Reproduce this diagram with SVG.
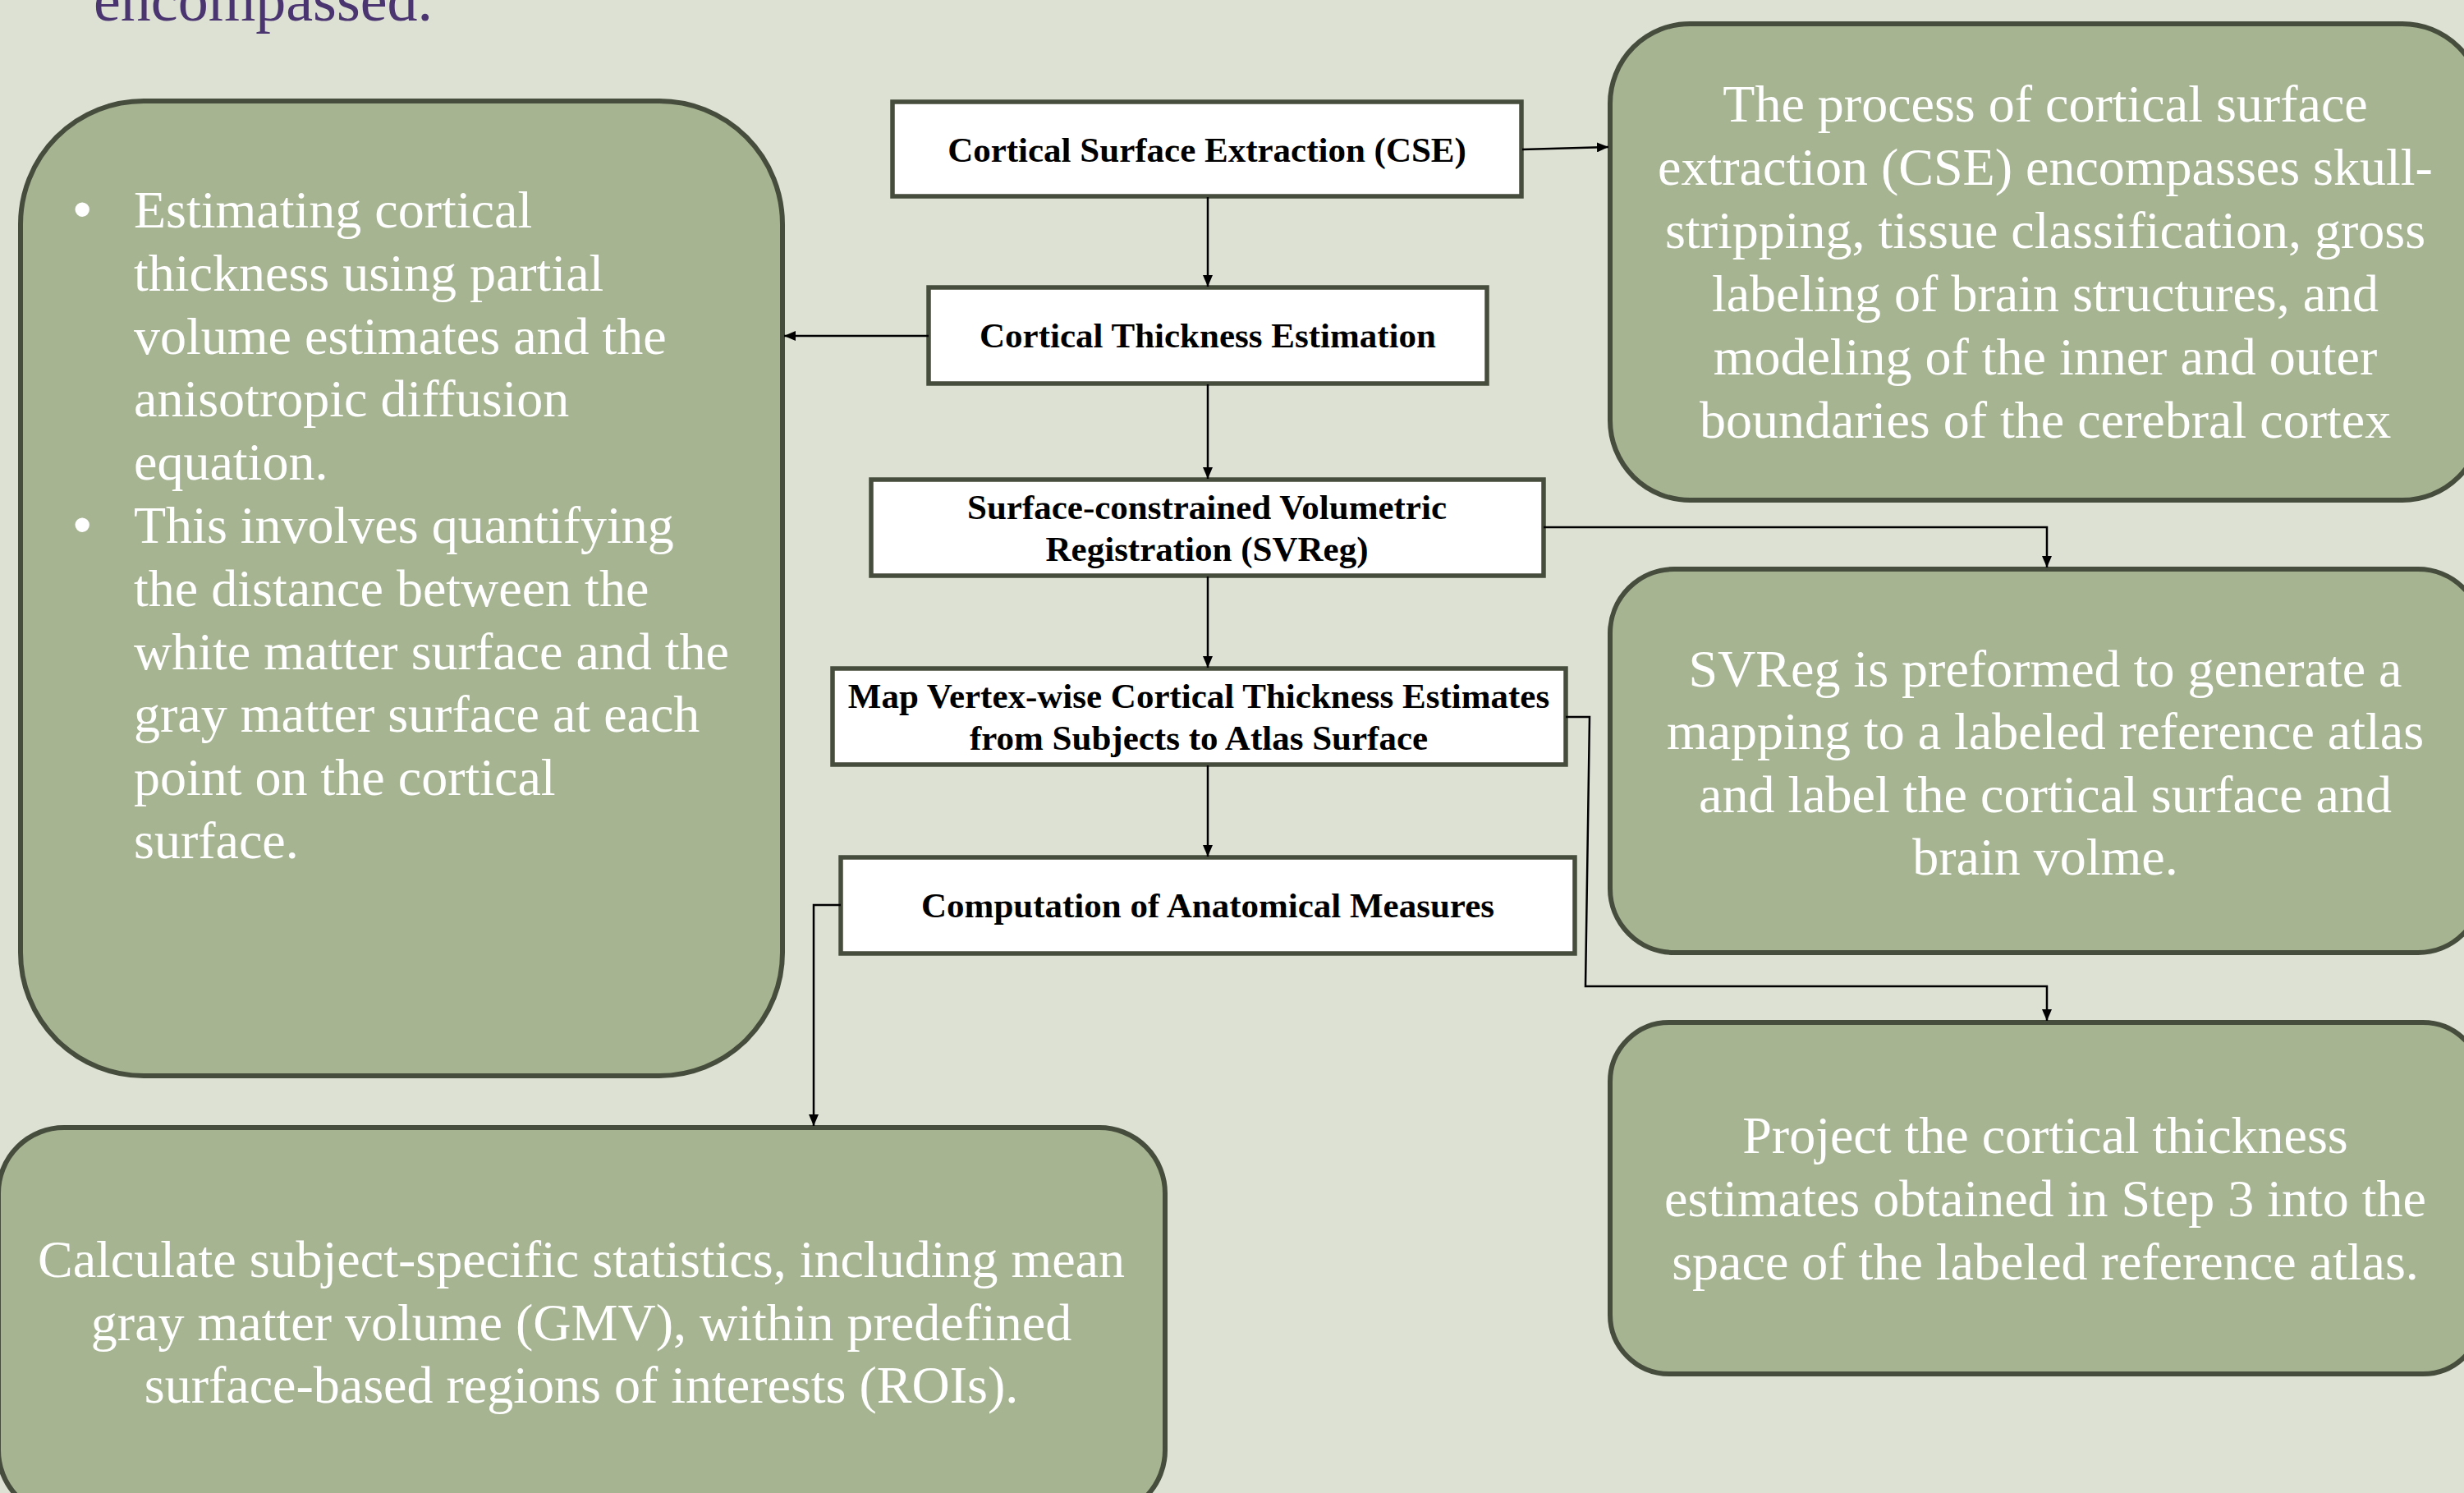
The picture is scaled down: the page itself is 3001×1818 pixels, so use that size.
<svg xmlns="http://www.w3.org/2000/svg" width="3001" height="1818" viewBox="0 0 3001 1818">
  <style>
    .bg { fill: #dce1d4; }
    .step { fill: #ffffff; stroke: #474d3d; stroke-width: 5.5; }
    .note { fill: #a6b492; stroke: #474d3d; stroke-width: 6; }
    .stepText { font-family: "Liberation Serif", "Times New Roman", serif; font-weight: bold; font-size: 43px; fill: #000000; text-anchor: middle; }
    .noteText { font-family: "Liberation Serif", "Times New Roman", serif; font-size: 64px; fill: #ffffff; text-anchor: middle; }
    .listText { font-family: "Liberation Serif", "Times New Roman", serif; font-size: 64px; fill: #ffffff; }
    .bullet { font-family: "Liberation Sans", Arial, sans-serif; font-size: 64px; fill: #ffffff; }
    .heading { font-family: "Liberation Serif", "Times New Roman", serif; font-size: 74px; fill: #4b3570; }
    .link { fill: none; stroke: #000000; stroke-width: 2.5; marker-end: url(#arrow); }
  </style>
  <defs>
    <marker id="arrow" markerUnits="userSpaceOnUse" markerWidth="14" markerHeight="12" refX="14" refY="6" orient="auto">
      <path d="M0,0 L14,6 L0,12 z" fill="#000000"/>
    </marker>
  </defs>

  <rect class="bg" x="0" y="0" width="3001" height="1818"/>

  <!-- tail of the preceding paragraph -->
  <text class="heading" x="114" y="25">encompassed.</text>

  <!-- pipeline steps -->
  <g id="step-cse">
    <rect class="step" x="1087" y="124" width="766" height="115"/>
    <text class="stepText" x="1470" y="197">Cortical Surface Extraction (CSE)</text>
  </g>
  <g id="step-thickness">
    <rect class="step" x="1131" y="350" width="680" height="117"/>
    <text class="stepText" x="1471" y="423">Cortical Thickness Estimation</text>
  </g>
  <g id="step-svreg">
    <rect class="step" x="1061" y="584" width="819" height="117"/>
    <text class="stepText" x="1470" y="632">Surface-constrained Volumetric</text>
    <text class="stepText" x="1470" y="683">Registration (SVReg)</text>
  </g>
  <g id="step-map">
    <rect class="step" x="1014" y="814" width="893" height="117"/>
    <text class="stepText" x="1460" y="862">Map Vertex-wise Cortical Thickness Estimates</text>
    <text class="stepText" x="1460" y="913">from Subjects to Atlas Surface</text>
  </g>
  <g id="step-measures">
    <rect class="step" x="1024" y="1044" width="894" height="117"/>
    <text class="stepText" x="1471" y="1117">Computation of Anatomical Measures</text>
  </g>

  <!-- explanatory notes -->
  <g id="note-thickness">
    <rect class="note" x="25" y="123" width="928" height="1187" rx="150" ry="150"/>
    <text class="bullet" x="89" y="277">•</text>
    <text class="listText" x="163" y="277">Estimating cortical</text>
    <text class="listText" x="163" y="354">thickness using partial</text>
    <text class="listText" x="163" y="431">volume estimates and the</text>
    <text class="listText" x="163" y="507">anisotropic diffusion</text>
    <text class="listText" x="163" y="584">equation.</text>
    <text class="bullet" x="89" y="661">•</text>
    <text class="listText" x="163" y="661">This involves quantifying</text>
    <text class="listText" x="163" y="738">the distance between the</text>
    <text class="listText" x="163" y="815">white matter surface and the</text>
    <text class="listText" x="163" y="891">gray matter surface at each</text>
    <text class="listText" x="163" y="968">point on the cortical</text>
    <text class="listText" x="163" y="1045">surface.</text>
  </g>
  <g id="note-cse">
    <rect class="note" x="1961" y="29" width="1062" height="580" rx="97" ry="97"/>
    <text class="noteText" x="2491" y="148">The process of cortical surface</text>
    <text class="noteText" x="2491" y="225">extraction (CSE) encompasses skull-</text>
    <text class="noteText" x="2491" y="302">stripping, tissue classification, gross</text>
    <text class="noteText" x="2491" y="379">labeling of brain structures, and</text>
    <text class="noteText" x="2491" y="456">modeling of the inner and outer</text>
    <text class="noteText" x="2491" y="533">boundaries of the cerebral cortex</text>
  </g>
  <g id="note-svreg">
    <rect class="note" x="1961" y="693" width="1062" height="467" rx="78" ry="78"/>
    <text class="noteText" x="2491" y="836">SVReg is preformed to generate a</text>
    <text class="noteText" x="2491" y="912">mapping to a labeled reference atlas</text>
    <text class="noteText" x="2491" y="989">and label the cortical surface and</text>
    <text class="noteText" x="2491" y="1065">brain volme.</text>
  </g>
  <g id="note-projection">
    <rect class="note" x="1961" y="1245" width="1062" height="428" rx="72" ry="72"/>
    <text class="noteText" x="2491" y="1404">Project the cortical thickness</text>
    <text class="noteText" x="2491" y="1481">estimates obtained in Step 3 into the</text>
    <text class="noteText" x="2491" y="1558">space of the labeled reference atlas.</text>
  </g>
  <g id="note-statistics">
    <rect class="note" x="-2" y="1373" width="1421" height="473" rx="80" ry="80"/>
    <text class="noteText" x="708" y="1555">Calculate subject-specific statistics, including mean</text>
    <text class="noteText" x="708" y="1632">gray matter volume (GMV), within predefined</text>
    <text class="noteText" x="708" y="1708">surface-based regions of interests (ROIs).</text>
  </g>

  <!-- connectors -->
  <g id="connectors">
    <path class="link" d="M1854,182 L1959,179"/>
    <path class="link" d="M1471,240 V349"/>
    <path class="link" d="M1131,409 H955"/>
    <path class="link" d="M1471,468 V583"/>
    <path class="link" d="M1880,642 H2493 V691"/>
    <path class="link" d="M1471,702 V813"/>
    <path class="link" d="M1907,873 H1936 L1931,1201 H2493 V1243"/>
    <path class="link" d="M1471,932 V1043"/>
    <path class="link" d="M1024,1102 H991 V1371"/>
  </g>
</svg>
